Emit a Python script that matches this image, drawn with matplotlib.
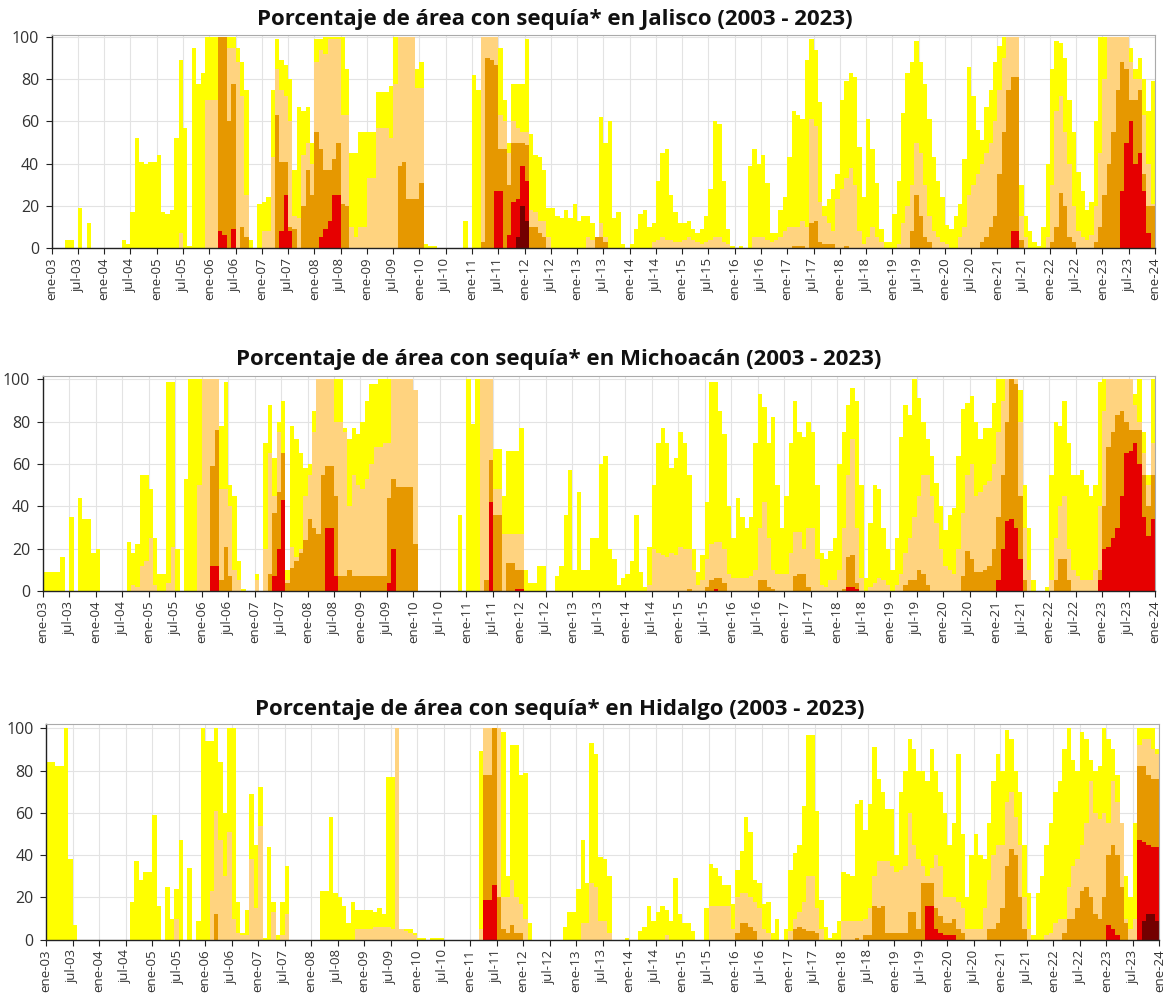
import numpy as np
import matplotlib
matplotlib.use("Agg")
import matplotlib.pyplot as plt

plt.rcParams['font.family'] = ['Open Sans', 'DejaVu Sans']

# Monthly % of state area, 2003-2023. Each level is cumulative:
# d0 = D0-D4, d1 = D1-D4, d2 = D2-D4, d3 = D3-D4, d4 = D4. Missing years are zero.
years = list(range(2003, 2024))
month_names = ['ene', 'jul']

jal_d0 = {
    2003: [0, 0, 0, 4, 4, 0, 19, 0, 12, 0, 0, 0],
    2004: [0, 0, 0, 0, 4, 2, 17, 52, 41, 40, 41, 41],
    2005: [44, 17, 16, 18, 52, 89, 57, 1, 95, 78, 83, 100],
    2006: [100, 100, 100, 100, 100, 100, 95, 88, 75, 4, 0, 21],
    2007: [22, 24, 75, 99, 89, 87, 80, 37, 67, 65, 67, 50],
    2008: [99, 99, 100, 100, 100, 100, 100, 85, 45, 45, 55, 55],
    2009: [55, 55, 74, 74, 74, 77, 100, 100, 100, 100, 100, 85],
    2010: [88, 2, 1, 1, 0, 0, 0, 0, 0, 0, 13, 0],
    2011: [82, 75, 100, 100, 100, 100, 95, 70, 50, 78, 78, 78],
    2012: [99, 54, 44, 43, 37, 19, 19, 15, 14, 18, 14, 21],
    2013: [13, 15, 15, 12, 5, 62, 50, 60, 14, 17, 2, 0],
    2014: [2, 9, 16, 18, 10, 12, 32, 45, 47, 25, 17, 12],
    2015: [12, 13, 9, 7, 9, 15, 28, 60, 59, 32, 9, 1],
    2016: [0, 1, 0, 39, 47, 40, 44, 31, 7, 7, 18, 24],
    2017: [43, 65, 63, 61, 89, 99, 94, 69, 20, 23, 28, 35],
    2018: [70, 79, 83, 81, 48, 24, 61, 47, 31, 9, 3, 3],
    2019: [16, 32, 64, 83, 88, 98, 88, 78, 61, 43, 32, 24],
    2020: [11, 9, 15, 21, 42, 86, 72, 56, 51, 67, 75, 88],
    2021: [96, 100, 100, 100, 100, 30, 15, 8, 3, 1, 10, 40],
    2022: [85, 98, 97, 90, 70, 55, 36, 27, 18, 22, 60, 100],
    2023: [100, 100, 100, 100, 100, 100, 95, 85, 90, 80, 65, 79],
}
jal_d1 = {
    2005: [0, 0, 0, 0, 0, 7, 0, 0, 0, 0, 0, 70],
    2006: [70, 70, 100, 100, 95, 95, 88, 72, 25, 0, 0, 0],
    2007: [8, 8, 43, 85, 75, 72, 60, 15, 14, 44, 50, 40],
    2008: [88, 94, 92, 99, 99, 99, 63, 63, 10, 5, 10, 10],
    2009: [33, 33, 57, 57, 57, 52, 78, 100, 100, 100, 100, 76],
    2010: [76, 0, 0, 0, 0, 0, 0, 0, 0, 0, 0, 0],
    2011: [0, 0, 100, 100, 100, 100, 63, 60, 45, 60, 57, 55],
    2012: [55, 18, 17, 13, 13, 5, 0, 0, 0, 0, 0, 0],
    2013: [0, 0, 5, 4, 5, 12, 5, 0, 0, 0, 0, 0],
    2014: [0, 0, 0, 0, 0, 3, 4, 5, 4, 4, 3, 3],
    2015: [4, 5, 4, 3, 2, 3, 4, 5, 5, 3, 2, 0],
    2016: [0, 0, 0, 0, 5, 5, 5, 4, 3, 4, 5, 8],
    2017: [10, 10, 10, 13, 10, 61, 58, 22, 15, 12, 8, 23],
    2018: [28, 33, 38, 30, 8, 2, 5, 10, 5, 3, 0, 0],
    2019: [0, 2, 12, 20, 30, 50, 45, 30, 15, 8, 5, 3],
    2020: [2, 0, 0, 5, 10, 25, 30, 35, 40, 45, 50, 60],
    2021: [75, 90, 100, 100, 100, 15, 5, 0, 0, 0, 0, 5],
    2022: [30, 65, 72, 55, 40, 20, 8, 5, 4, 6, 20, 45],
    2023: [80, 100, 100, 100, 100, 100, 88, 80, 80, 63, 40, 21],
}
jal_d2 = {
    2006: [0, 0, 100, 100, 60, 78, 0, 10, 5, 0, 0, 0],
    2007: [0, 0, 0, 63, 41, 41, 10, 9, 0, 20, 37, 25],
    2008: [55, 47, 37, 37, 42, 50, 21, 20, 0, 0, 0, 0],
    2009: [0, 0, 0, 0, 0, 0, 0, 39, 41, 23, 23, 23],
    2010: [31, 0, 0, 0, 0, 0, 0, 0, 0, 0, 0, 0],
    2011: [0, 0, 3, 90, 89, 87, 47, 47, 30, 50, 50, 50],
    2012: [49, 10, 10, 7, 5, 0, 0, 0, 0, 0, 0, 0],
    2013: [0, 0, 0, 0, 5, 5, 3, 0, 0, 0, 0, 0],
    2017: [0, 1, 1, 1, 0, 12, 13, 3, 2, 2, 2, 0],
    2018: [0, 1, 0, 0, 0, 0, 0, 0, 0, 0, 0, 0],
    2019: [0, 0, 0, 0, 8, 25, 15, 5, 3, 0, 0, 0],
    2020: [0, 0, 0, 0, 0, 0, 0, 0, 3, 5, 10, 15],
    2021: [35, 55, 75, 81, 81, 4, 0, 0, 0, 0, 0, 0],
    2022: [3, 10, 26, 20, 5, 3, 0, 0, 0, 0, 3, 10],
    2023: [25, 40, 55, 75, 88, 85, 70, 70, 75, 35, 20, 20],
}
jal_d3 = {
    2006: [0, 0, 8, 6, 0, 9, 0, 0, 0, 0, 0, 0],
    2007: [0, 0, 0, 0, 8, 25, 8, 0, 0, 0, 0, 0],
    2008: [0, 5, 9, 13, 25, 25, 0, 0, 0, 0, 0, 0],
    2011: [0, 0, 0, 0, 0, 27, 27, 0, 6, 22, 23, 39],
    2012: [32, 0, 0, 0, 0, 0, 0, 0, 0, 0, 0, 0],
    2021: [0, 0, 0, 8, 8, 0, 0, 0, 0, 0, 0, 0],
    2023: [0, 0, 0, 0, 27, 50, 60, 40, 45, 27, 7, 0],
}
jal_d4 = {
    2011: [0, 0, 0, 0, 0, 0, 0, 0, 0, 0, 5, 20],
    2012: [13, 0, 0, 0, 0, 0, 0, 0, 0, 0, 0, 0],
}

mich_d0 = {
    2003: [9, 9, 9, 9, 16, 0, 35, 0, 44, 34, 34, 18],
    2004: [20, 0, 0, 0, 0, 0, 0, 23, 18, 22, 55, 55],
    2005: [48, 25, 8, 8, 99, 99, 20, 0, 53, 100, 100, 100],
    2006: [100, 100, 100, 100, 78, 99, 50, 45, 14, 1, 0, 0],
    2007: [8, 0, 70, 88, 63, 80, 90, 10, 78, 72, 65, 58],
    2008: [60, 85, 100, 100, 100, 100, 100, 100, 77, 72, 77, 74],
    2009: [80, 90, 98, 98, 100, 100, 100, 100, 100, 100, 100, 100],
    2010: [95, 0, 0, 0, 0, 0, 0, 0, 0, 0, 36, 0],
    2011: [100, 79, 100, 100, 100, 100, 67, 67, 45, 66, 66, 66],
    2012: [77, 10, 4, 4, 12, 12, 0, 0, 7, 12, 36, 57],
    2013: [10, 47, 10, 10, 25, 25, 60, 64, 20, 15, 3, 6],
    2014: [8, 14, 36, 9, 2, 21, 50, 70, 77, 70, 58, 63],
    2015: [75, 70, 55, 20, 9, 17, 42, 99, 99, 85, 74, 40],
    2016: [25, 44, 35, 30, 35, 70, 93, 87, 70, 82, 50, 30],
    2017: [45, 70, 90, 75, 73, 80, 75, 50, 18, 15, 19, 25],
    2018: [60, 75, 88, 96, 90, 50, 6, 32, 50, 48, 30, 20],
    2019: [10, 25, 73, 88, 83, 100, 91, 80, 72, 64, 51, 40],
    2020: [29, 36, 39, 64, 86, 89, 92, 80, 72, 77, 77, 89],
    2021: [100, 100, 100, 100, 100, 95, 50, 30, 5, 0, 0, 2],
    2022: [55, 80, 78, 90, 70, 55, 55, 57, 50, 45, 50, 99],
    2023: [100, 100, 100, 100, 100, 100, 100, 93, 100, 75, 55, 100],
}
mich_d1 = {
    2004: [0, 0, 0, 0, 0, 0, 0, 0, 3, 2, 12, 14],
    2005: [25, 3, 0, 0, 4, 21, 0, 0, 0, 0, 0, 50],
    2006: [100, 100, 100, 100, 48, 48, 40, 10, 5, 0, 0, 0],
    2007: [5, 0, 20, 65, 45, 75, 65, 5, 21, 16, 20, 45],
    2008: [55, 75, 100, 100, 100, 100, 80, 80, 75, 40, 55, 50],
    2009: [48, 53, 60, 68, 68, 70, 70, 100, 100, 100, 100, 100],
    2010: [95, 0, 0, 0, 0, 0, 0, 0, 0, 0, 0, 0],
    2011: [0, 0, 0, 100, 100, 100, 48, 48, 27, 27, 27, 27],
    2012: [27, 0, 0, 0, 0, 0, 0, 0, 0, 0, 0, 0],
    2014: [0, 0, 0, 0, 0, 3, 20, 18, 17, 16, 18, 17],
    2015: [21, 20, 20, 10, 3, 5, 15, 22, 23, 23, 20, 8],
    2016: [6, 6, 6, 6, 7, 10, 30, 42, 25, 10, 8, 8],
    2017: [8, 18, 28, 28, 20, 30, 30, 15, 3, 2, 5, 5],
    2018: [10, 30, 55, 72, 30, 6, 0, 2, 4, 6, 5, 3],
    2019: [0, 3, 8, 18, 25, 35, 45, 55, 55, 45, 32, 20],
    2020: [12, 10, 8, 20, 37, 55, 60, 45, 47, 50, 52, 60],
    2021: [75, 90, 100, 100, 100, 80, 30, 10, 0, 0, 0, 0],
    2022: [5, 25, 40, 45, 20, 10, 7, 5, 5, 5, 10, 40],
    2023: [85, 100, 100, 100, 100, 100, 100, 88, 80, 65, 50, 70],
}
mich_d2 = {
    2006: [0, 0, 59, 76, 5, 21, 7, 0, 0, 0, 0, 0],
    2007: [0, 0, 0, 8, 37, 47, 65, 4, 11, 14, 18, 24],
    2008: [34, 30, 27, 55, 59, 59, 45, 7, 7, 10, 7, 7],
    2009: [7, 7, 7, 7, 7, 7, 44, 53, 49, 49, 49, 49],
    2010: [22, 0, 0, 0, 0, 0, 0, 0, 0, 0, 0, 0],
    2011: [0, 0, 0, 0, 5, 62, 36, 36, 0, 13, 13, 10],
    2012: [10, 0, 0, 0, 0, 0, 0, 0, 0, 0, 0, 0],
    2015: [0, 0, 1, 0, 0, 0, 2, 5, 6, 6, 4, 0],
    2016: [0, 0, 0, 0, 0, 0, 5, 5, 2, 1, 0, 0],
    2017: [0, 0, 7, 8, 8, 2, 0, 0, 0, 0, 0, 0],
    2018: [0, 1, 16, 17, 4, 0, 0, 0, 0, 0, 0, 0],
    2019: [0, 0, 0, 3, 5, 5, 10, 8, 3, 0, 0, 0],
    2020: [0, 0, 0, 0, 7, 19, 15, 9, 9, 10, 12, 20],
    2021: [35, 55, 80, 100, 98, 45, 5, 0, 0, 0, 0, 0],
    2022: [0, 5, 15, 15, 5, 0, 0, 0, 0, 0, 0, 10],
    2023: [40, 68, 75, 83, 85, 80, 76, 76, 76, 55, 40, 55],
}
mich_d3 = {
    2006: [0, 0, 12, 12, 0, 0, 0, 0, 0, 0, 0, 0],
    2007: [0, 0, 0, 0, 7, 20, 43, 0, 0, 0, 0, 0],
    2008: [0, 0, 0, 0, 30, 30, 7, 0, 0, 0, 0, 0],
    2009: [0, 0, 0, 0, 0, 0, 4, 20, 0, 0, 0, 0],
    2011: [0, 0, 0, 0, 0, 42, 0, 0, 0, 0, 0, 1],
    2012: [1, 0, 0, 0, 0, 0, 0, 0, 0, 0, 0, 0],
    2015: [0, 0, 0, 0, 0, 0, 0, 0, 1, 0, 0, 0],
    2018: [0, 0, 2, 2, 1, 0, 0, 0, 0, 0, 0, 0],
    2021: [5, 20, 33, 34, 30, 15, 0, 0, 0, 0, 0, 0],
    2022: [0, 0, 0, 0, 0, 0, 0, 0, 0, 0, 0, 5],
    2023: [20, 21, 25, 30, 45, 65, 66, 70, 60, 35, 26, 34],
}
mich_d4 = {}

hgo_d0 = {
    2003: [84, 84, 82, 82, 100, 38, 7, 0, 0, 0, 0, 0],
    2004: [0, 0, 0, 0, 0, 0, 0, 18, 37, 28, 32, 32],
    2005: [59, 16, 0, 25, 10, 24, 47, 0, 34, 0, 9, 100],
    2006: [94, 94, 100, 84, 60, 100, 100, 18, 3, 14, 69, 45],
    2007: [72, 1, 44, 18, 2, 18, 35, 0, 0, 0, 0, 0],
    2008: [0, 0, 23, 23, 58, 22, 20, 16, 8, 18, 14, 14],
    2009: [14, 14, 13, 15, 12, 77, 77, 100, 5, 5, 5, 3],
    2010: [1, 1, 0, 1, 1, 1, 0, 0, 0, 0, 0, 0],
    2011: [0, 0, 89, 100, 100, 100, 100, 98, 30, 92, 92, 78],
    2012: [79, 8, 0, 0, 0, 0, 0, 0, 0, 6, 13, 13],
    2013: [24, 47, 27, 93, 88, 39, 38, 30, 0, 0, 0, 1],
    2014: [0, 0, 4, 6, 16, 9, 13, 16, 14, 9, 29, 12],
    2015: [8, 8, 4, 0, 0, 15, 36, 34, 30, 26, 26, 17],
    2016: [33, 42, 58, 51, 28, 27, 17, 18, 3, 10, 0, 5],
    2017: [33, 41, 45, 63, 97, 97, 61, 19, 6, 1, 3, 9],
    2018: [32, 31, 30, 64, 66, 52, 64, 91, 76, 70, 62, 62],
    2019: [40, 70, 80, 95, 90, 80, 80, 75, 90, 80, 70, 60],
    2020: [45, 55, 88, 50, 20, 40, 50, 40, 38, 55, 75, 88],
    2021: [80, 99, 95, 80, 70, 45, 22, 2, 22, 30, 45, 55],
    2022: [70, 75, 90, 100, 85, 80, 98, 95, 85, 80, 82, 100],
    2023: [95, 90, 78, 55, 30, 20, 55, 100, 100, 100, 100, 90],
}
hgo_d1 = {
    2005: [0, 0, 0, 0, 0, 10, 0, 0, 0, 0, 0, 0],
    2006: [0, 23, 61, 47, 30, 51, 10, 3, 2, 2, 38, 15],
    2007: [54, 0, 0, 13, 0, 2, 12, 0, 0, 0, 0, 0],
    2008: [0, 0, 0, 0, 0, 0, 0, 0, 0, 0, 5, 5],
    2009: [5, 5, 6, 6, 6, 6, 5, 100, 5, 4, 3, 2],
    2011: [0, 0, 5, 100, 100, 100, 100, 20, 20, 28, 20, 17],
    2012: [10, 0, 0, 0, 0, 0, 0, 0, 0, 0, 0, 0],
    2013: [0, 8, 8, 27, 25, 9, 9, 3, 0, 0, 0, 0],
    2014: [0, 0, 0, 0, 0, 0, 0, 0, 2, 0, 0, 0],
    2015: [0, 0, 0, 0, 0, 0, 16, 16, 16, 16, 16, 5],
    2016: [20, 22, 22, 20, 18, 15, 5, 3, 0, 0, 0, 0],
    2017: [4, 10, 13, 18, 30, 30, 15, 5, 0, 0, 0, 0],
    2018: [9, 9, 9, 9, 9, 10, 15, 30, 37, 37, 37, 35],
    2019: [32, 33, 35, 60, 45, 38, 35, 30, 34, 40, 35, 20],
    2020: [20, 20, 18, 15, 5, 5, 5, 5, 15, 28, 40, 45],
    2021: [45, 65, 70, 58, 45, 20, 5, 0, 0, 0, 2, 3],
    2022: [8, 10, 10, 25, 35, 38, 45, 55, 75, 60, 57, 60],
    2023: [55, 75, 65, 55, 10, 5, 10, 92, 95, 95, 90, 88],
}
hgo_d2 = {
    2006: [0, 0, 12, 0, 0, 0, 0, 0, 0, 0, 0, 0],
    2011: [0, 0, 0, 78, 78, 100, 20, 5, 3, 7, 3, 3],
    2016: [3, 8, 8, 6, 4, 0, 0, 0, 0, 0, 0, 0],
    2017: [0, 5, 6, 5, 4, 4, 3, 0, 0, 0, 0, 0],
    2018: [0, 0, 0, 1, 0, 2, 2, 16, 15, 16, 3, 3],
    2019: [3, 3, 3, 13, 13, 5, 27, 27, 27, 15, 11, 8],
    2020: [8, 10, 5, 3, 0, 0, 0, 0, 0, 5, 5, 8],
    2021: [15, 35, 43, 40, 20, 5, 0, 0, 0, 0, 0, 0],
    2022: [0, 0, 3, 10, 10, 15, 23, 25, 20, 12, 10, 20],
    2023: [40, 45, 40, 25, 8, 0, 0, 82, 82, 78, 76, 76],
}
hgo_d3 = {
    2011: [0, 0, 0, 19, 19, 26, 0, 0, 0, 0, 0, 0],
    2019: [0, 0, 0, 0, 0, 0, 0, 16, 16, 5, 3, 2],
    2020: [2, 2, 0, 0, 0, 0, 0, 0, 0, 0, 0, 0],
    2023: [7, 5, 2, 0, 0, 0, 0, 47, 46, 45, 44, 44],
}
hgo_d4 = {
    2023: [0, 0, 0, 0, 0, 0, 0, 0, 9, 12, 12, 9],
}

level_colors = ['#FFFF00', '#FFD37F', '#E69800', '#E60000', '#730000']


def monthly(series):
    return np.concatenate([np.array(series.get(y, [0] * 12), dtype=float) for y in years])


# panel definitions: title, levels, axes rect (fig fraction), y top, title position
panels = [
    ('Jalisco', [jal_d0, jal_d1, jal_d2, jal_d3, jal_d4],
     [0.0443, 0.752, 0.9463, 0.213], 101.0, (0.476, 0.981)),
    ('Michoacán', [mich_d0, mich_d1, mich_d2, mich_d3, mich_d4],
     [0.0366, 0.409, 0.9540, 0.215], 101.6, (0.479, 0.640)),
    ('Hidalgo', [hgo_d0, hgo_d1, hgo_d2, hgo_d3, hgo_d4],
     [0.0395, 0.0603, 0.9548, 0.2157], 102.0, (0.480, 0.291)),
]

n_months = 12 * len(years)
edges = np.arange(n_months + 1)
tick_pos = np.arange(0, n_months + 1, 6)
tick_labels = ['%s-%02d' % (month_names[(i // 6) % 2], (2003 + i // 12) % 100) for i in tick_pos]

fig = plt.figure(figsize=(11.66, 10), dpi=100)

for state, levels, rect, ytop, tpos in panels:
    ax = fig.add_axes(rect)
    for series, col in zip(levels, level_colors):
        vals = monthly(series)
        ax.fill_between(edges, np.append(vals, vals[-1]), step='post',
                        color=col, linewidth=0, zorder=2)
    ax.set_xlim(0, n_months)
    ax.set_ylim(0, ytop)
    ax.set_xticks(tick_pos)
    ax.set_xticklabels(tick_labels, rotation=90, fontsize=9.5, color='#333333')
    ax.set_yticks(range(0, 101, 20))
    ax.set_yticklabels([str(v) for v in range(0, 101, 20)], fontsize=11.5, color='#333333')
    ax.grid(color='#e3e3e3', linewidth=0.8, zorder=0)
    ax.set_axisbelow(True)
    for side in ['top', 'right']:
        ax.spines[side].set_color('#aaaaaa')
        ax.spines[side].set_linewidth(0.8)
    for side in ['left', 'bottom']:
        ax.spines[side].set_color('#222222')
        ax.spines[side].set_linewidth(1.0)
    ax.tick_params(axis='x', direction='out', length=4, width=0.8, color='#222222', pad=3)
    ax.tick_params(axis='y', direction='out', length=4, width=0.8, color='#222222', pad=5)
    fig.text(tpos[0], tpos[1], 'Porcentaje de área con sequía* en %s (2003 - 2023)' % state,
             ha='center', va='center', fontsize=16, fontweight='bold', color='#111111')

fig.savefig('out.png', dpi=100)
